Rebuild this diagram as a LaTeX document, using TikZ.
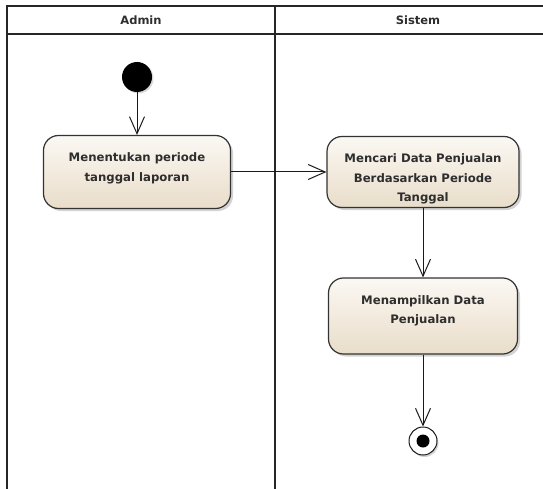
\documentclass[tikz,border=0pt]{standalone}
\usepackage{fontspec}
\setmainfont{DejaVu Sans}
\usetikzlibrary{arrows.meta,shadows}
\definecolor{boxtop}{HTML}{FBF8F3}
\definecolor{boxbot}{HTML}{E9DDCA}
\definecolor{txt}{HTML}{2E2E2E}
\tikzset{
  lane/.style={line width=1.4pt, draw=black!85},
  action/.style={draw=black!80, line width=1.2pt, rounded corners=15pt,
    top color=boxtop, bottom color=boxbot,
    minimum width=187pt, minimum height=73pt,
    drop shadow={shadow xshift=2.5pt, shadow yshift=-2.5pt, opacity=0.35}},
  acttext/.style={anchor=north, inner sep=0pt, text=txt, align=center,
    font=\bfseries\fontsize{11.7}{19.3}\selectfont},
  lanelabel/.style={text=txt, font=\bfseries\fontsize{11.5}{13}\selectfont},
  flow/.style={draw=black!90, line width=1pt, -{Straight Barb[length=17pt,width=15pt,line width=1pt]}},
  startnode/.style={circle, fill=black, minimum size=30pt, inner sep=0pt,
    drop shadow={shadow xshift=1.5pt, shadow yshift=-1.5pt, opacity=0.3}},
  endouter/.style={circle, draw=black!90, line width=1pt, fill=white, minimum size=28pt, inner sep=0pt,
    drop shadow={shadow xshift=1.5pt, shadow yshift=-2pt, opacity=0.35}},
  endinner/.style={circle, fill=black, minimum size=13pt, inner sep=0pt}
}
\begin{document}
\begin{tikzpicture}[x=1pt,y=-1pt]
\useasboundingbox (0,0) rectangle (543,489);
% swimlanes
\coordinate (tl) at (7,6);
\coordinate (tr) at (543,6);
\coordinate (hl) at (7,34);
\coordinate (hr) at (543,34);
\coordinate (bl) at (7,489);
\coordinate (dt) at (275,6);
\coordinate (db) at (275,489);
\draw[lane] (tr) -- (tl) -- (bl);
\draw[lane] (hl) -- (hr);
\draw[lane] (dt) -- (db);
\node[lanelabel] (admin) at (141,20) {Admin};
\node[lanelabel] (sistem) at (418,20) {Sistem};
% nodes
\node[startnode] (start) at (137,77) {};
\node[action] (a1) at (137,172) {};
\node[acttext] (a1t) at ([yshift=-18pt]a1.north) {Menentukan periode\\tanggal laporan};
\node[action, minimum width=192pt, minimum height=71pt] (a2) at (423,172) {};
\node[acttext] (a2t) at ([yshift=-18pt]a2.north) {Mencari Data Penjualan\\Berdasarkan Periode\\Tanggal};
\node[action, minimum width=189pt, minimum height=76pt] (a3) at (423,316) {};
\node[acttext] (a3t) at ([yshift=-18pt]a3.north) {Menampilkan Data\\Penjualan};
\node[endouter] (end) at (423,441) {};
\node[endinner] (endin) at (end.center) {};
% flows
\draw[flow] (start) -- (a1.north);
\draw[flow] (a1.east) -- (a2.west);
\draw[flow] (a2.south) -- (a3.north);
\draw[flow] (a3.south) -- (end.north);
\end{tikzpicture}
\end{document}
